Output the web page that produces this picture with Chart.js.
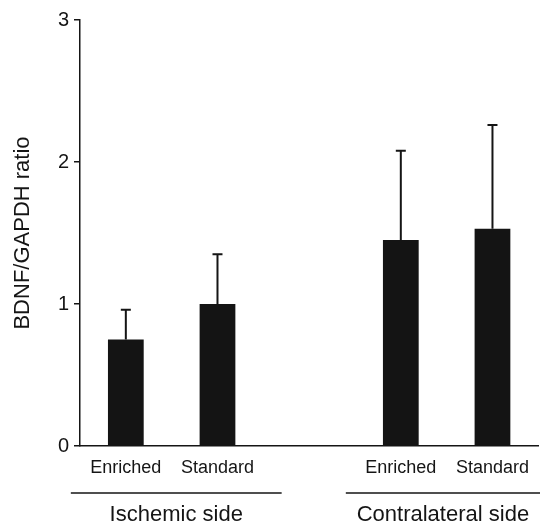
<!DOCTYPE html>
<html>
<head>
<meta charset="utf-8">
<script src="https://cdn.jsdelivr.net/npm/chart.js@4"></script>
<style>
  html, body { margin: 0; padding: 0; background: #fff; }
  canvas { display: block; }
</style>
</head>
<body>
<canvas id="myChart" width="540" height="524"></canvas>
<script>
// data
const categories = ["Enriched", "Standard", "", "Enriched", "Standard"];
const means = [0.75, 1.0, null, 1.45, 1.53];
const errors = [0.21, 0.35, null, 0.63, 0.73];
const yTicks = [0, 1, 2, 3];
const groupNames = ["Ischemic side", "Contralateral side"];
const groupSpans = [[0, 1], [3, 4]];

const FONT = "'Liberation Sans', Arial, sans-serif";
const INK = "#151515";

// upward error bars with a small cap
const errorBars = {
  id: "errorBars",
  afterDatasetsDraw(chart) {
    const ctx = chart.ctx;
    const meta = chart.getDatasetMeta(0);
    const y = chart.scales.y;
    ctx.save();
    ctx.strokeStyle = INK;
    ctx.lineWidth = 2;
    meta.data.forEach(function (bar, i) {
      if (means[i] == null) return;
      const top = y.getPixelForValue(means[i] + errors[i]);
      ctx.beginPath();
      ctx.moveTo(bar.x, bar.y);
      ctx.lineTo(bar.x, top);
      ctx.moveTo(bar.x - 5, top);
      ctx.lineTo(bar.x + 5, top);
      ctx.stroke();
    });
    ctx.restore();
  },
};

// group underline + name below the tick labels
const groupLabels = {
  id: "groupLabels",
  afterDraw(chart) {
    const ctx = chart.ctx;
    const x = chart.scales.x;
    const step = x.getPixelForValue(1) - x.getPixelForValue(0);
    ctx.save();
    ctx.strokeStyle = INK;
    ctx.fillStyle = INK;
    ctx.lineWidth = 1.5;
    ctx.font = "22px " + FONT;
    ctx.textAlign = "center";
    ctx.textBaseline = "alphabetic";
    groupSpans.forEach(function (span, g) {
      const left = x.getPixelForValue(span[0]) - step * 0.6;
      const right = Math.min(x.getPixelForValue(span[1]) + step * 0.7, chart.width);
      ctx.beginPath();
      ctx.moveTo(left, 493);
      ctx.lineTo(right, 493);
      ctx.stroke();
      ctx.fillText(groupNames[g], (left + right) / 2, 521);
    });
    ctx.restore();
  },
};

const ctx = document.getElementById("myChart").getContext("2d");
new Chart(ctx, {
  type: "bar",
  data: {
    labels: categories,
    datasets: [
      {
        data: means,
        backgroundColor: "#141414",
        borderWidth: 0,
        barPercentage: 0.39,
        categoryPercentage: 1,
      },
    ],
  },
  options: {
    responsive: false,
    animation: false,
    layout: { padding: { top: 20, right: 0, left: 0, bottom: 0 } },
    plugins: {
      legend: { display: false },
      tooltip: { enabled: false },
    },
    scales: {
      x: {
        grid: { display: false, drawTicks: false },
        border: { color: INK, width: 1.5 },
        ticks: {
          color: INK,
          padding: 11,
          maxRotation: 0,
          autoSkip: false,
          font: { family: FONT, size: 18 },
        },
        afterFit: function (scale) {
          scale.height = 78;
        },
      },
      y: {
        min: 0,
        max: 3,
        afterBuildTicks: function (scale) {
          scale.ticks = yTicks.map(function (v) { return { value: v }; });
        },
        grid: {
          drawOnChartArea: false,
          drawTicks: true,
          tickLength: 6,
          color: INK,
          lineWidth: 1.5,
        },
        border: { color: INK, width: 1.5 },
        ticks: {
          color: INK,
          padding: 5,
          font: { family: FONT, size: 20 },
        },
        title: {
          display: true,
          text: "BDNF/GAPDH ratio",
          color: INK,
          padding: { top: 10, bottom: 0 },
          font: { family: FONT, size: 22 },
        },
        afterFit: function (scale) {
          scale.width = 80;
        },
      },
    },
  },
  plugins: [errorBars, groupLabels],
});
</script>
</body>
</html>
